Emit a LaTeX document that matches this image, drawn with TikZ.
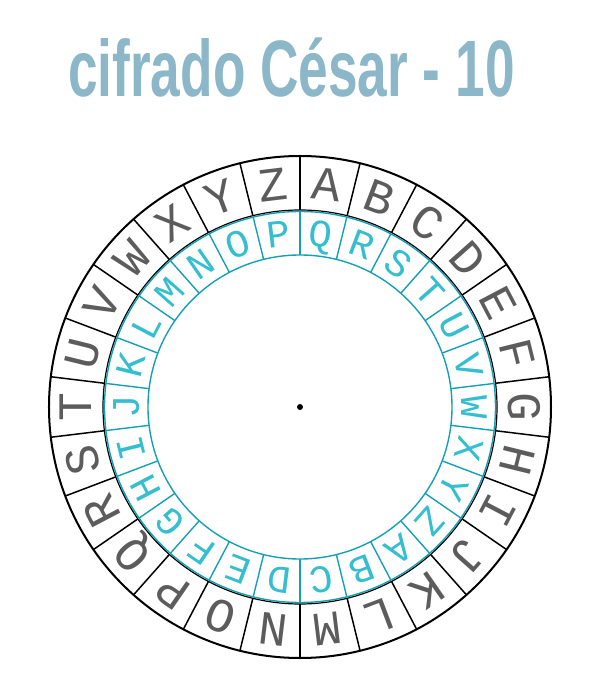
\documentclass[tikz,border=0pt]{standalone}
\usepackage{fontspec}
\usepackage{graphicx}
\setmainfont{Liberation Sans}
\newfontfamily\ruedafont{Liberation Mono}
\definecolor{tituloazul}{RGB}{139,183,201}
\definecolor{cianletra}{RGB}{52,190,208}
\definecolor{cianlinea}{RGB}{20,160,180}
\definecolor{grisletra}{RGB}{92,92,92}
\tikzset{
  titulo/.style={
    anchor=base west,
    inner sep=0pt,
    text=tituloazul,
    font=\bfseries\fontsize{80}{80}\selectfont
  },
  letraext/.style={
    inner sep=0pt,
    text height=32pt,
    text depth=0pt,
    text=grisletra,
    font=\ruedafont\fontsize{48}{48}\selectfont
  },
  letraint/.style={
    inner sep=0pt,
    text height=26pt,
    text depth=0pt,
    text=cianletra,
    font=\ruedafont\fontsize{39}{39}\selectfont
  },
  aroext/.style={
    draw=black,
    line width=2pt
  },
  aroint/.style={
    draw=cianlinea,
    line width=1.4pt
  },
  eje/.style={
    circle,
    fill=black,
    inner sep=0pt,
    minimum size=6pt
  }
}

\begin{document}
\begin{tikzpicture}[x=1pt,y=1pt]
\useasboundingbox (-300,-289) rectangle (302,407);
\node[titulo] (titulo) at (-232,310) {\scalebox{0.665}[1]{cifrado César - 10}};
% anillo exterior
\draw[aroext] (0,0) circle (251);
\draw[aroext,line width=1.2pt] (0,0) circle (197);
\foreach \k in {0,...,25}
  \draw[aroext,line width=1.5pt] (90-\k*360/26:197) -- (90-\k*360/26:251);
% anillo interior
\draw[aroint] (0,0) circle (195.5);
\draw[aroint] (0,0) circle (152);
\foreach \k in {0,...,25}
  \draw[aroint] (90-\k*360/26:152) -- (90-\k*360/26:195.5);
% letras
\foreach \l [count=\i from 0] in {A,...,Z}
  \node[letraext,rotate={-(\i+0.5)*360/26}] (ext-\l) at ({90-(\i+0.5)*360/26}:224) {\l};
\foreach \l [count=\i from 0] in {Q,R,S,T,U,V,W,X,Y,Z,A,B,C,D,E,F,G,H,I,J,K,L,M,N,O,P}
  \node[letraint,rotate={-(\i+0.5)*360/26}] (int-\l) at ({90-(\i+0.5)*360/26}:174) {\l};
\node[eje] (eje) at (0,0) {};
\end{tikzpicture}
\end{document}
